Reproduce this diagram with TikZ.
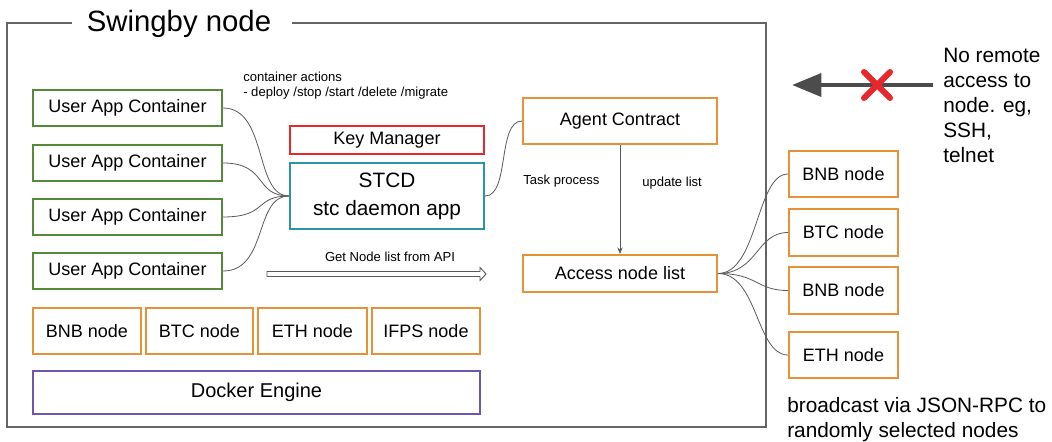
\documentclass[tikz,border=0pt]{standalone}
\usepackage{fontspec}
\setmainfont{Liberation Sans}
\usetikzlibrary{arrows.meta,calc}
\definecolor{cgreen}{RGB}{84,138,58}
\definecolor{cred}{RGB}{230,40,45}
\definecolor{cteal}{RGB}{40,150,165}
\definecolor{corange}{RGB}{230,145,56}
\definecolor{cpurple}{RGB}{110,85,175}
\definecolor{cframe}{RGB}{100,100,100}
\definecolor{cline}{RGB}{90,90,90}
\begin{document}
\begin{tikzpicture}[x=0.75pt,y=-0.75pt,
  box/.style={draw,line width=1.5pt,inner sep=0pt,anchor=north west,font=\fontsize{13.5}{15}\selectfont},
  gbox/.style={box,draw=cgreen,minimum width=189*0.75pt,minimum height=36*0.75pt},
  obox/.style={box,draw=corange},
  conn/.style={draw=cline,line width=0.6pt},
  small/.style={font=\fontsize{9.8}{12}\selectfont,inner sep=0pt,anchor=west},
  big/.style={font=\fontsize{15.6}{18.7}\selectfont,inner sep=0pt,anchor=north west,align=left}]
\useasboundingbox (0,0) rectangle (1052,442);
\fill[white] (0,0) rectangle (1052,442);
% frame
\draw[cframe,line width=1.6pt] (72,23) -- (7,23) -- (7,427) -- (766,427) -- (766,23) -- (292,23);
\node[font=\fontsize{22}{26}\selectfont,inner sep=0pt] (title) at (179,24) {Swingby node};
% user app containers
\node[gbox] (u1) at (32,89) {};
\node at (u1.center) {\fontsize{13.5}{15}\selectfont User App Container};
\node[gbox] (u2) at (32,144) {};
\node at (u2.center) {\fontsize{13.5}{15}\selectfont User App Container};
\node[gbox] (u3) at (32,198) {};
\node at (u3.center) {\fontsize{13.5}{15}\selectfont User App Container};
\node[gbox] (u4) at (32,252) {};
\node at (u4.center) {\fontsize{13.5}{15}\selectfont User App Container};
% key manager & stcd
\node[box,draw=cred,minimum width=194*0.75pt,minimum height=28*0.75pt] (km) at (289,125) {Key Manager};
\node[box,draw=cteal,minimum width=194*0.75pt,minimum height=66*0.75pt,align=center,font=\fontsize{15.6}{21}\selectfont] (stcd) at (289,162) {STCD\\stc daemon app};
% agent contract & access list
\node[obox,minimum width=194*0.75pt,minimum height=46*0.75pt] (ac) at (522,97) {Agent Contract};
\node[obox,minimum width=194*0.75pt,minimum height=37*0.75pt] (anl) at (522,254) {Access node list};
% bottom row
\node[obox,minimum width=108*0.75pt,minimum height=46*0.75pt] (b1) at (32,307) {BNB node};
\node[obox,minimum width=107*0.75pt,minimum height=46*0.75pt] (b2) at (145,307) {BTC node};
\node[obox,minimum width=109*0.75pt,minimum height=46*0.75pt] (b3) at (257,307) {ETH node};
\node[obox,minimum width=108*0.75pt,minimum height=46*0.75pt] (b4) at (371,307) {IFPS node};
\node[box,draw=cpurple,minimum width=447*0.75pt,minimum height=43*0.75pt,font=\fontsize{15}{18}\selectfont] (de) at (32,370) {Docker Engine};
% right nodes
\node[obox,minimum width=109*0.75pt,minimum height=46*0.75pt] (r1) at (788,150) {BNB node};
\node[obox,minimum width=109*0.75pt,minimum height=47*0.75pt] (r2) at (788,208) {BTC node};
\node[obox,minimum width=109*0.75pt,minimum height=47*0.75pt] (r3) at (788,266) {BNB node};
\node[obox,minimum width=109*0.75pt,minimum height=46*0.75pt] (r4) at (788,331) {ETH node};
% curves to stcd
\foreach \u in {u1,u2,u3,u4}{
  \draw[conn] (\u.east) .. controls +(45,0) and +(-35,0) .. (stcd.west);
}
\draw[conn] (stcd.east) .. controls +(25,0) and +(-25,0) .. (ac.west);
\foreach \r in {r1,r2,r3,r4}{
  \draw[conn] (anl.east) .. controls +(40,0) and +(-32,0) .. (\r.west);
}
\draw[conn,-{Stealth[length=5pt,width=4pt]}] (ac.south) -- (anl.north);
% labels
\node[small] (ca1) at (243,77) {container actions};
\node[small] (ca2) at (243,93.5) {- deploy /stop /start /delete /migrate};
\node[small] (tp) at (523,181) {Task process};
\node[small] (ul) at (642,183) {update list};
\node[small,anchor=center] (gn) at (390,257) {Get Node list from API};
% hollow block arrow
\coordinate (ga) at (267,274);
\coordinate (gb) at (486,274);
\draw[cline,line width=0.7pt,fill=white,line join=miter]
  ($(ga)+(0,-2.5)$) -- ($(gb)+(-6,-2.5)$) -- ($(gb)+(-6,-6.5)$) -- (gb)
  -- ($(gb)+(-6,6.5)$) -- ($(gb)+(-6,2.5)$) -- ($(ga)+(0,2.5)$) -- cycle;
% no remote access arrow
\coordinate (na) at (933,85);
\coordinate (nb) at (792,85);
\draw[draw=cline!85!black,line width=3.5pt,-{Triangle[length=22pt,width=17pt]}] (na) -- (nb);
\coordinate (xc) at (877,85);
\draw[cred,line width=4.5pt,line cap=round] ($(xc)+(-13,-13)$) -- ($(xc)+(13,13)$);
\draw[cred,line width=4.5pt,line cap=round] ($(xc)+(-13,13)$) -- ($(xc)+(13,-13)$);
\node[big] (nr) at (943,48) {No remote\\access to\\node. eg,\\SSH,\\telnet};
\node[big] (bc) at (787,397) {broadcast via JSON-RPC to\\randomly selected nodes};
\end{tikzpicture}
\end{document}
